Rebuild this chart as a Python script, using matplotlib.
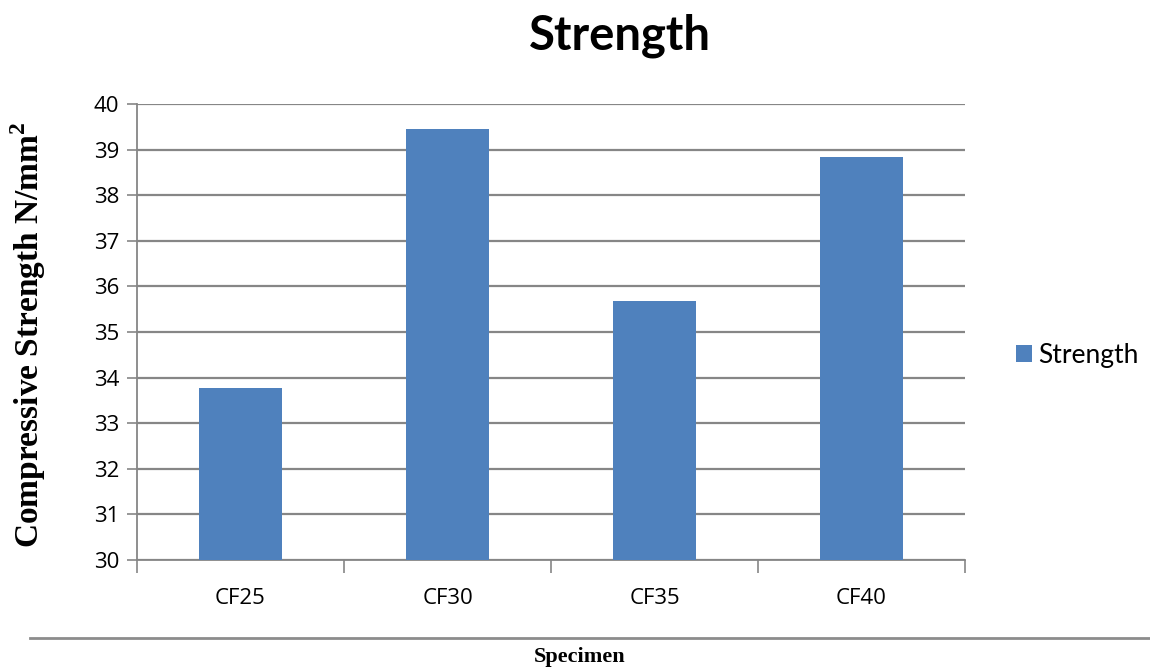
import matplotlib
matplotlib.use("Agg")
import matplotlib.pyplot as plt
from matplotlib.lines import Line2D
from matplotlib.patches import Patch

categories = ["CF25", "CF30", "CF35", "CF40"]
strength = [33.77, 39.45, 35.67, 38.84]
y_ticks = [30, 31, 32, 33, 34, 35, 36, 37, 38, 39, 40]

BAR_COLOR = "#4F81BD"
GRID_COLOR = "#868686"

plt.rcParams["mathtext.fontset"] = "custom"
plt.rcParams["mathtext.bf"] = "Liberation Serif:bold"
plt.rcParams["mathtext.rm"] = "Liberation Serif"

fig = plt.figure(figsize=(11.5, 6.71), dpi=100)
ax = fig.add_axes([137/1150, 1-560/671, (965-137)/1150, (560-104)/671])

x = list(range(len(categories)))
ax.bar(x, strength, width=0.4, color=BAR_COLOR, zorder=3, label="Strength")
ax.set_xlim(-0.5, len(categories) - 0.5)
ax.set_ylim(30, 40)
ax.set_yticks(y_ticks)
ax.set_yticklabels([str(t) for t in y_ticks], fontsize=16, family="Open Sans")
ax.yaxis.grid(True, color=GRID_COLOR, linewidth=1.6, zorder=0)
ax.set_axisbelow(True)

# category labels centred, ticks at boundaries
ax.set_xticks([i - 0.5 for i in range(len(categories) + 1)])
ax.set_xticklabels([])
ax.set_xticks(x, minor=True)
ax.set_xticklabels(categories, minor=True, fontsize=16, family="Open Sans")
ax.tick_params(axis="x", which="major", direction="out", length=9, color=GRID_COLOR, width=1.2)
ax.tick_params(axis="x", which="minor", length=0, pad=20)
ax.tick_params(axis="y", direction="out", length=7, color=GRID_COLOR, width=1.2, pad=6)

for s in ["top", "right"]:
    ax.spines[s].set_visible(False)
for s in ["left", "bottom"]:
    ax.spines[s].set_color(GRID_COLOR)
    ax.spines[s].set_linewidth(1.3)

fig.text(620/1150, 1-36/671, "Strength", ha="center", va="center",
         fontsize=34, fontweight="bold", family="Lato")
fig.text(28/1150, 1-335/671, "Compressive Strength N/mm$^{\\mathbf{2}}$", rotation=90,
         ha="center", va="center", fontsize=24, fontweight="bold", family="Liberation Serif")
fig.text(580/1150, 1-657/671, "Specimen", ha="center", va="center",
         fontsize=16, fontweight="bold", family="Liberation Serif")

fig.add_artist(Line2D([30/1150, 1.0], [1-638/671, 1-638/671], color="#8c8c8c",
                      linewidth=2, transform=fig.transFigure))

handles = [Patch(facecolor=BAR_COLOR, label="Strength")]
fig.legend(handles=handles, loc="center left", bbox_to_anchor=(992/1150, 1-355/671),
           frameon=False, prop={"family": "Lato", "size": 19},
           handlelength=0.6, handleheight=0.6, handletextpad=0.25)

fig.savefig("out.png", dpi=100)
